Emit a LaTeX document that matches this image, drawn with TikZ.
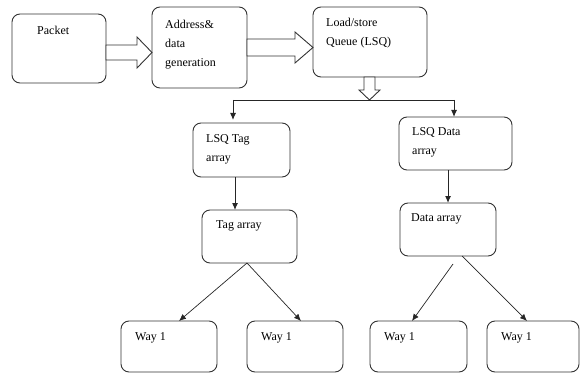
\documentclass[tikz,border=0pt]{standalone}
\usepackage{fontspec}
\setmainfont{Liberation Serif}
\usetikzlibrary{arrows.meta}
\begin{document}
\begin{tikzpicture}[x=1pt,y=-1pt,
  box/.style={draw=black!80,line width=0.9pt,rounded corners=8pt},
  lbl/.style={anchor=north west,inner sep=0pt,font=\fontsize{12}{19}\selectfont,align=left},
  hollow/.style={draw=black!80,line width=0.9pt,fill=white},
  conn/.style={draw=black!85,line width=1pt,-{Latex[length=7pt,width=6pt]}},
  diag/.style={draw=black!85,line width=0.7pt,-{Latex[length=7pt,width=6pt]}}]
\useasboundingbox (0,0) rectangle (580,374);
% boxes
\path[box] (12,14) rectangle (106,83) node[pos=0.5] (packet) {};
\path[box] (152,7) rectangle (247,88) node[pos=0.5] (addr) {};
\path[box] (313,7) rectangle (427,77) node[pos=0.5] (lsq) {};
\path[box] (193,123) rectangle (290,177) node[pos=0.5] (lsqtag) {};
\path[box] (399,117) rectangle (512,170) node[pos=0.5] (lsqdata) {};
\path[box] (202,210) rectangle (297,263) node[pos=0.5] (tag) {};
\path[box] (400,203) rectangle (496,256) node[pos=0.5] (data) {};
\path[box] (121,321) rectangle (217,372) node[pos=0.5] (w1) {};
\path[box] (247,321) rectangle (343,372) node[pos=0.5] (w2) {};
\path[box] (370,321) rectangle (467,372) node[pos=0.5] (w3) {};
\path[box] (487,321) rectangle (579,372) node[pos=0.5] (w4) {};
% labels
\node[lbl] (tpacket) at (37,26) {Packet};
\node[lbl] (taddr) at (165,20) {Address\&\\data\\generation};
\node[lbl] (tlsq) at (326,18) {Load/store\\Queue (LSQ)};
\node[lbl] (tlsqtag) at (206,134) {LSQ Tag\\array};
\node[lbl] (tlsqdata) at (412,127) {LSQ Data\\array};
\node[lbl] (ttag) at (216,220) {Tag array};
\node[lbl] (tdata) at (411,213) {Data array};
\node[lbl] (tw1) at (135,332) {Way 1};
\node[lbl] (tw2) at (261,332) {Way 1};
\node[lbl] (tw3) at (384,332) {Way 1};
\node[lbl] (tw4) at (501,332) {Way 1};
% hollow arrows
\path[hollow] (106,45) -- (137,45) -- (137,37) -- (152,52.5) -- (137,68) -- (137,60) -- (106,60) -- cycle;
\path[hollow] (247,39) -- (295,39) -- (295,32) -- (313,47.5) -- (295,63) -- (295,56) -- (247,56) -- cycle;
\path[hollow] (364,77) -- (364,90) -- (359,90) -- (369.5,100) -- (380,90) -- (375,90) -- (375,77) -- cycle;
% split connector
\coordinate (split) at (369.5,100);
\coordinate (sl) at (233,100);
\coordinate (sr) at (454,100);
\draw[black!85,line width=0.9pt] (sl) -- (sr);
\draw[conn] (sl) -- (233,120);
\draw[conn] (sr) -- (454,117);
\draw[conn] (235,177) -- (235,210);
\draw[conn] (448,170) -- (448,203);
% diagonal arrows
\coordinate (tb) at (247,263);
\draw[diag] (tb) -- (179,321);
\draw[diag] (tb) -- (301,321);
\draw[diag] (453,264) -- (412,321);
\draw[diag] (462,256) -- (527,321);
\end{tikzpicture}
\end{document}
